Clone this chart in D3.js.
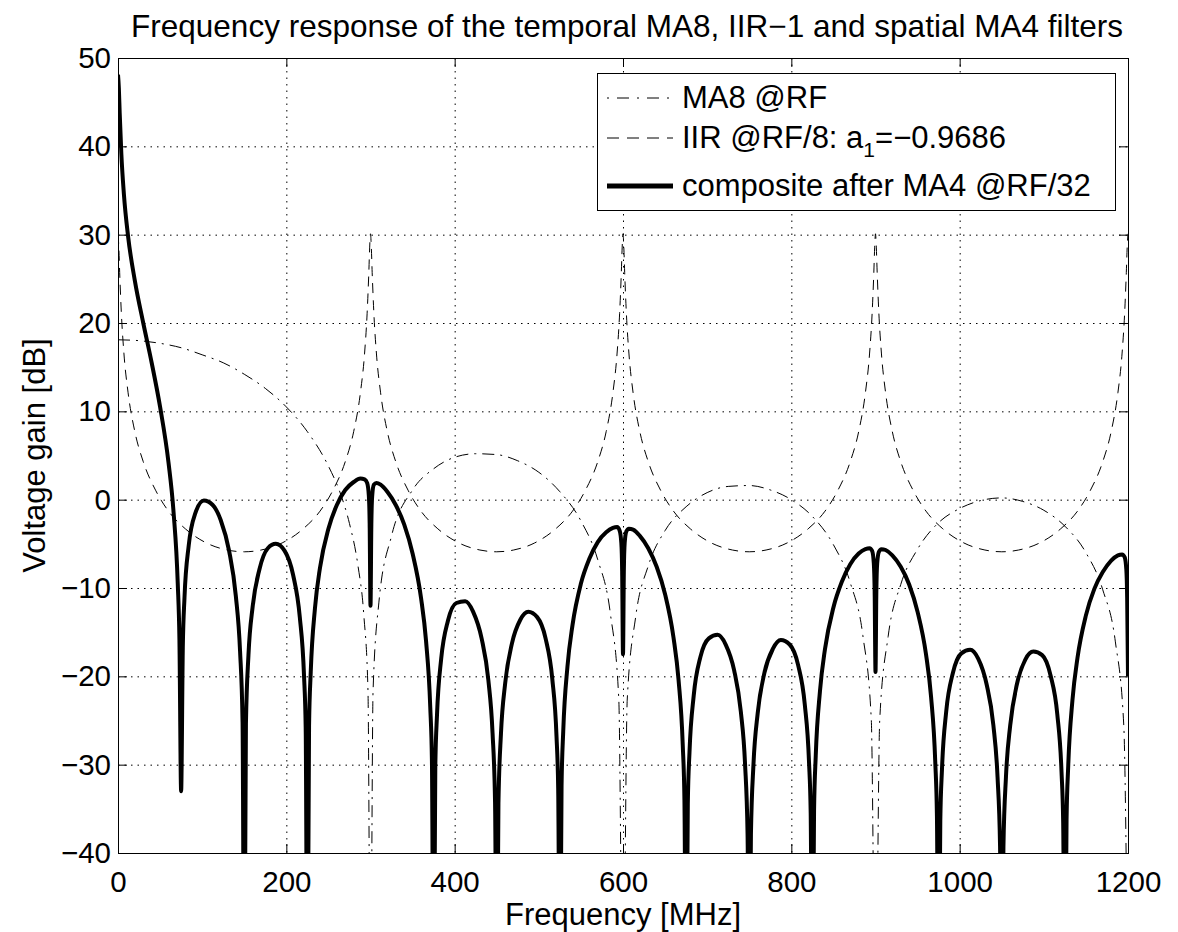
<!DOCTYPE html>
<html>
<head>
<meta charset="utf-8">
<script src="https://cdnjs.cloudflare.com/ajax/libs/d3/7.8.5/d3.min.js"></script>
<style>
  body { margin: 0; background: #fff; }
  svg { display: block; font-family: "Liberation Sans", Arial, sans-serif; }
</style>
</head>
<body>
<svg></svg>
<script>
  // values: [frequency MHz, gain dB]
  const xTicks = [0, 200, 400, 600, 800, 1000, 1200];
  const yTicks = [-40, -30, -20, -10, 0, 10, 20, 30, 40, 50];

  const ma8 = [[0,18.1],[25,18.0],[50,17.7],[75,17.2],[100,16.4],[125,15.5],[150,14.2],[175,12.6],[200,10.5],[225,7.7],[250,3.8],[265,0.5],[275,-2.7],[285,-7.4],[292,-13.0],[297,-21.6],[300,-60],
    [303,-21.8],[310,-11.6],[325,-4.1],[350,1.1],[375,3.5],[400,4.8],[425,5.2],[450,5.1],[475,4.4],[500,3.1],[525,0.9],[550,-2.4],[570,-6.8],[585,-12.9],[595,-22.6],[600,-60],
    [605,-22.7],[615,-13.3],[630,-7.5],[650,-3.5],[675,-0.8],[700,0.8],[725,1.5],[750,1.6],[775,1.1],[800,0],[825,-1.9],[850,-5.1],[870,-9.4],[885,-15.4],[895,-24.9],[900,-60],
    [905,-25.0],[915,-15.5],[930,-9.6],[950,-5.6],[975,-2.6],[1000,-1.0],[1025,-0.1],[1050,0.2],[1075,-0.2],[1100,-1.2],[1125,-3.0],[1150,-6.0],[1170,-10.2],[1185,-16.1],[1195,-25.6],[1200,-60]];

  const iir = [[0,30.1],[1,28.5],[2,25.7],[4,21.1],[7,16.6],[12,12.1],[20,7.7],[30,4.3],[45,1.0],[60,-1.3],[80,-3.3],[105,-4.9],[130,-5.7],[150,-5.9],
    [170,-5.7],[195,-4.9],[220,-3.3],[240,-1.3],[255,1.0],[270,4.3],[280,7.7],[288,12.1],[293,16.6],[296,21.1],[298,25.7],[299,28.5],[300,30.1],
    [301,28.5],[302,25.7],[304,21.1],[307,16.6],[312,12.1],[320,7.7],[330,4.3],[345,1.0],[360,-1.3],[380,-3.3],[405,-4.9],[430,-5.7],[450,-5.9],
    [470,-5.7],[495,-4.9],[520,-3.3],[540,-1.3],[555,1.0],[570,4.3],[580,7.7],[588,12.1],[593,16.6],[596,21.1],[598,25.7],[599,28.5],[600,30.1],
    [601,28.5],[602,25.7],[604,21.1],[607,16.6],[612,12.1],[620,7.7],[630,4.3],[645,1.0],[660,-1.3],[680,-3.3],[705,-4.9],[730,-5.7],[750,-5.9],
    [770,-5.7],[795,-4.9],[820,-3.3],[840,-1.3],[855,1.0],[870,4.3],[880,7.7],[888,12.1],[893,16.6],[896,21.1],[898,25.7],[899,28.5],[900,30.1],
    [901,28.5],[902,25.7],[904,21.1],[907,16.6],[912,12.1],[920,7.7],[930,4.3],[945,1.0],[960,-1.3],[980,-3.3],[1005,-4.9],[1030,-5.7],[1050,-5.9],
    [1070,-5.7],[1095,-4.9],[1120,-3.3],[1140,-1.3],[1155,1.0],[1170,4.3],[1180,7.7],[1188,12.1],[1193,16.6],[1196,21.1],[1198,25.7],[1199,28.5],[1200,30.1]];

  const composite = [[0,48.1],[1,46.6],[2,43.8],[4,39.1],[7,34.6],[12,29.8],[20,24.8],[30,20.0],[40,15.5],[50,10.5],[60,4.2],[66,-1.4],[71,-9.5],[73,-15.9],[75,-33],
    [77,-16.7],[79,-11.1],[84,-5.2],[92,-1.5],[102,-0.1],[112.5,-0.6],[122,-2.3],[132,-5.8],[140,-10.9],[145,-17.1],[148,-25.2],[150,-60],
    [152,-25.4],[155,-17.6],[160,-12.1],[168,-7.9],[178,-5.5],[187.5,-5.0],[198,-5.8],[208,-8.5],[216,-13.3],[221,-19.9],[223,-25.8],[225,-60],
    [227,-25.6],[229,-19.5],[234,-12.3],[240,-7.7],[250,-3.3],[260,-0.6],[270,1.1],[280,2.0],[288,2.4],[293,2.3],[296,1.9],[298,0.5],[299,-2.7],[300,-12],
    [301,-2.8],[302,0.4],[304,1.7],[307,1.9],[312,1.7],[320,0.9],[330,-0.6],[340,-2.8],[350,-6.1],[360,-11.1],[366,-16.0],[371,-23.5],[373,-29.7],[375,-60],
    [377,-30.2],[379,-24.4],[384,-18.0],[392,-13.7],[402,-11.7],[412.5,-11.5],[422,-12.7],[432,-15.7],[440,-20.4],[445,-26.4],[448,-34.3],[450,-60],
    [452,-34.4],[455,-26.5],[460,-20.8],[468,-16.3],[478,-13.6],[487.5,-12.7],[498,-13.3],[508,-15.7],[516,-20.3],[521,-26.8],[523,-32.7],[525,-60],
    [527,-32.4],[529,-26.2],[534,-18.9],[540,-14.2],[550,-9.5],[560,-6.7],[570,-4.8],[580,-3.7],[588,-3.2],[593,-3.1],[596,-3.5],[598,-4.9],[599,-8.1],[600,-17.5],
    [601,-8.1],[602,-4.9],[604,-3.6],[607,-3.3],[612,-3.4],[620,-4.1],[630,-5.5],[640,-7.6],[650,-10.7],[660,-15.6],[666,-20.4],[671,-27.8],[673,-34.0],[675,-60],
    [677,-34.4],[679,-28.6],[684,-22.2],[692,-17.8],[702,-15.7],[712.5,-15.3],[722,-16.4],[732,-19.3],[740,-24.0],[745,-29.9],[748,-37.9],[750,-60],
    [752,-37.9],[755,-30.0],[760,-24.2],[768,-19.6],[778,-16.9],[787.5,-15.9],[798,-16.4],[808,-18.7],[816,-23.2],[821,-29.7],[823,-35.5],[825,-60],
    [827,-35.2],[829,-29.0],[834,-21.7],[840,-16.9],[850,-12.2],[860,-9.3],[870,-7.3],[880,-6.1],[888,-5.6],[893,-5.5],[896,-5.8],[898,-7.2],[899,-10.4],[900,-19.5],
    [901,-10.4],[902,-7.2],[904,-5.9],[907,-5.6],[912,-5.7],[920,-6.3],[930,-7.6],[940,-9.6],[950,-12.7],[960,-17.5],[966,-22.3],[971,-29.7],[973,-35.9],[975,-60],
    [977,-36.3],[979,-30.5],[984,-24.0],[992,-19.6],[1002,-17.4],[1012.5,-17.0],[1022,-18.0],[1032,-20.9],[1040,-25.5],[1045,-31.4],[1048,-39.3],[1050,-60],
    [1052,-39.3],[1055,-31.4],[1060,-25.6],[1068,-20.9],[1078,-18.1],[1087.5,-17.2],[1098,-17.6],[1108,-19.9],[1116,-24.3],[1121,-30.8],[1123,-36.6],[1125,-60],
    [1127,-36.2],[1129,-30.1],[1134,-22.7],[1140,-17.9],[1150,-13.1],[1160,-10.1],[1170,-8.2],[1180,-6.9],[1188,-6.3],[1193,-6.2],[1196,-6.5],[1198,-7.9],[1199,-11.1],[1200,-20]];

  let width = 1178, height = 932;
  let margin = {top: 58, left: 118, right: 50, bottom: 79};
  let pw = width - margin.left - margin.right;   // 1010
  let ph = height - margin.top - margin.bottom;  // 795

  let svg = d3.select("svg").attr("width", width).attr("height", height);

  let x = d3.scaleLinear().domain([0, 1200]).range([0, pw]);
  let y = d3.scaleLinear().domain([-40, 50]).range([ph, 0]);

  let g = svg.append("g").attr("transform", "translate(" + margin.left + "," + margin.top + ")");

  svg.append("defs").append("clipPath").attr("id", "plot-clip")
    .append("rect").attr("width", pw).attr("height", ph);

  // dotted grid
  let grid = g.append("g").attr("stroke", "#000").attr("stroke-width", 1)
    .attr("stroke-dasharray", "1.5,5");
  grid.selectAll(".gx").data(xTicks.slice(1, -1)).enter().append("line")
    .attr("x1", d => x(d) + 0.5).attr("x2", d => x(d) + 0.5).attr("y1", 0).attr("y2", ph);
  grid.selectAll(".gy").data(yTicks.slice(1, -1)).enter().append("line")
    .attr("y1", d => y(d) + 0.5).attr("y2", d => y(d) + 0.5).attr("x1", 0).attr("x2", pw);

  // curves
  let line = d3.line().x(d => x(d[0])).y(d => y(d[1])).curve(d3.curveMonotoneX);
  let curves = g.append("g").attr("clip-path", "url(#plot-clip)").attr("fill", "none").attr("stroke", "#000");

  curves.append("path").datum(ma8).attr("d", line)
    .attr("stroke-width", 1).attr("stroke-dasharray", "12,6,2,6");
  curves.append("path").datum(iir).attr("d", line)
    .attr("stroke-width", 1).attr("stroke-dasharray", "10,7");
  curves.append("path").datum(composite).attr("d", line)
    .attr("stroke-width", 4);

  // axes, matlab style: ticks inside on all four sides
  let tickFont = "29.5px";
  let minus = d => d < 0 ? "\u2212" + Math.abs(d) : String(d);
  let ax = g.append("g").attr("transform", "translate(0," + ph + ")")
    .call(d3.axisBottom(x).tickValues(xTicks).tickSize(-9).tickPadding(18).tickFormat(minus));
  let ay = g.append("g")
    .call(d3.axisLeft(y).tickValues(yTicks).tickSize(-9).tickPadding(7).tickFormat(minus));
  let at = g.append("g")
    .call(d3.axisTop(x).tickValues(xTicks).tickSize(-9).tickFormat(""));
  let ar = g.append("g").attr("transform", "translate(" + pw + ",0)")
    .call(d3.axisRight(y).tickValues(yTicks).tickSize(-9).tickFormat(""));
  [ax, ay, at, ar].forEach(a => {
    a.select(".domain").remove();
    a.selectAll("line").attr("stroke", "#000");
    a.selectAll("text").attr("font-size", tickFont).attr("font-family", null).attr("fill", "#000");
  });

  g.append("rect").attr("x", 0.5).attr("y", 0.5).attr("width", pw).attr("height", ph)
    .attr("fill", "none").attr("stroke", "#000").attr("stroke-width", 1);

  // legend
  let lg = svg.append("g");
  lg.append("rect").attr("x", 597.5).attr("y", 73.5).attr("width", 518).attr("height", 137)
    .attr("fill", "#fff").attr("stroke", "#000");
  let legendRows = [
    {y: 98, dash: "2,8,12,8", w: 1, label: "MA8 @RF"},
    {y: 138, dash: "12,8", w: 1, label: "IIR @RF/8: a"},
    {y: 186, dash: null, w: 5, label: "composite after MA4 @RF/32"}
  ];
  legendRows.forEach((r, i) => {
    lg.append("line").attr("x1", 607).attr("x2", 673).attr("y1", r.y).attr("y2", r.y)
      .attr("stroke", "#000").attr("stroke-width", r.w).attr("stroke-dasharray", r.dash);
    let t = lg.append("text").attr("x", 682).attr("y", r.y + 10).attr("font-size", "31px").text(r.label);
    if (i === 1) {
      t.append("tspan").attr("font-size", "21px").attr("dy", 9).text("1");
      t.append("tspan").attr("dy", -9).text("=\u22120.9686");
    }
  });

  // labels
  svg.append("text").attr("x", 627).attr("y", 37).attr("text-anchor", "middle")
    .attr("font-size", "31.5px").text("Frequency response of the temporal MA8, IIR\u22121 and spatial MA4 filters");
  svg.append("text").attr("x", 623).attr("y", 925).attr("text-anchor", "middle")
    .attr("font-size", "31px").text("Frequency [MHz]");
  svg.append("text").attr("transform", "translate(45," + (margin.top + ph / 2) + ") rotate(-90)")
    .attr("text-anchor", "middle").attr("font-size", "31px").text("Voltage gain [dB]");
</script>
</body>
</html>
